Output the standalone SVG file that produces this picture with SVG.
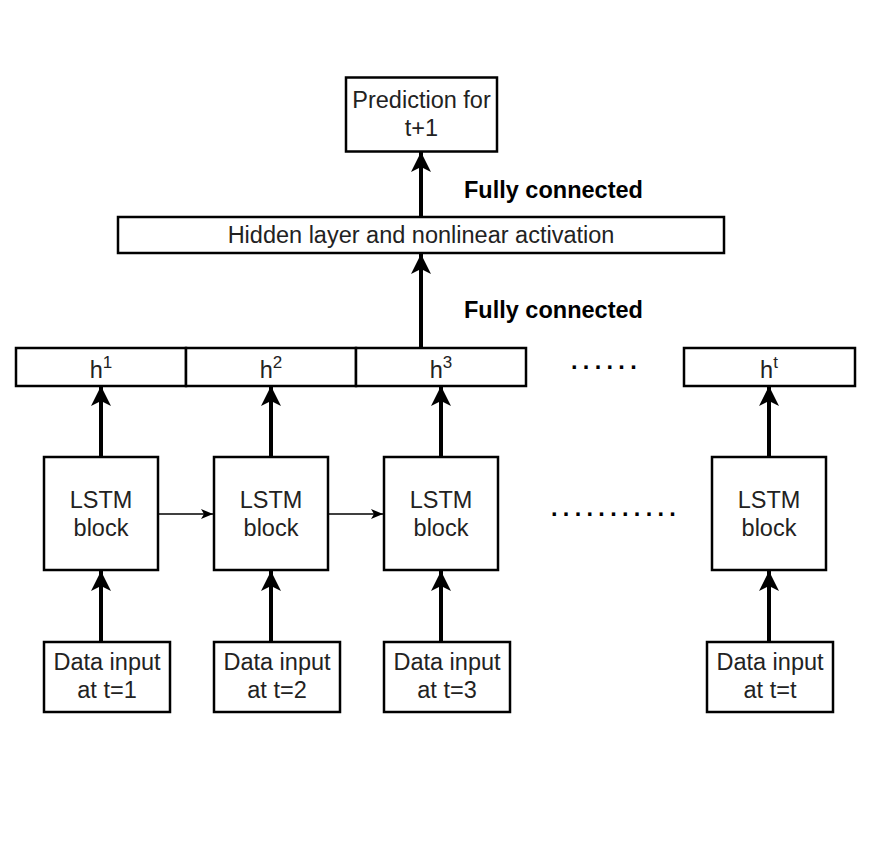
<svg xmlns="http://www.w3.org/2000/svg" width="876" height="854" viewBox="0 0 876 854">
<defs>
<marker id="big" markerUnits="userSpaceOnUse" markerWidth="20" markerHeight="20" viewBox="0 0 20 20" refX="20" refY="10" orient="auto">
<path d="M20,10 L0,0 L5,10 L0,20 Z" fill="#000"/>
</marker>
<marker id="small" markerUnits="userSpaceOnUse" markerWidth="12" markerHeight="10" viewBox="0 0 12 10" refX="12" refY="5" orient="auto">
<path d="M12,5 L0,0 L3,5 L0,10 Z" fill="#000"/>
</marker>
</defs>
<style>
rect{fill:#fff;stroke:#000;stroke-width:2.5}
text{font-family:"Liberation Sans",Arial,sans-serif;font-size:23.5px;fill:#222;text-anchor:middle}
.b{font-weight:bold;text-anchor:start;fill:#000}
.thick{stroke:#000;stroke-width:4;fill:none;marker-end:url(#big)}
.thin{stroke:#000;stroke-width:1.5;fill:none;marker-end:url(#small)}
.dots{font-weight:bold;text-anchor:start;letter-spacing:5.3px;fill:#000}
</style>
<rect x="0" y="0" width="876" height="854" style="fill:#fff;stroke:none"/>
<g id="connectors">
<line class="thick" x1="101" y1="642" x2="101" y2="571"/>
<line class="thick" x1="271" y1="642" x2="271" y2="571"/>
<line class="thick" x1="441" y1="642" x2="441" y2="571"/>
<line class="thick" x1="769" y1="642" x2="769" y2="571"/>
<line class="thick" x1="101" y1="457" x2="101" y2="386"/>
<line class="thick" x1="271" y1="457" x2="271" y2="386"/>
<line class="thick" x1="441" y1="457" x2="441" y2="386"/>
<line class="thick" x1="769" y1="457" x2="769" y2="386"/>
<line class="thick" x1="421" y1="348" x2="421" y2="254"/>
<line class="thick" x1="421" y1="217" x2="421" y2="152"/>
<line class="thin" x1="158" y1="514" x2="213" y2="514"/>
<line class="thin" x1="328" y1="514" x2="383" y2="514"/>
</g>
<g id="prediction">
<rect x="346" y="77.5" width="151" height="74"/>
<text x="421.5" y="108">Prediction for</text>
<text x="421.5" y="136">t+1</text>
</g>
<g id="hidden">
<rect x="118" y="217" width="606" height="36"/>
<text x="421" y="243">Hidden layer and nonlinear activation</text>
</g>
<g id="fc-labels">
<text class="b" x="464" y="198">Fully connected</text>
<text class="b" x="464" y="318">Fully connected</text>
</g>
<g id="h1">
<rect x="16" y="348" width="170" height="38"/>
<text x="101" y="378">h<tspan font-size="17" dy="-10">1</tspan></text>
</g>
<g id="h2">
<rect x="186" y="348" width="170" height="38"/>
<text x="271" y="378">h<tspan font-size="17" dy="-10">2</tspan></text>
</g>
<g id="h3">
<rect x="356" y="348" width="170" height="38"/>
<text x="441" y="378">h<tspan font-size="17" dy="-10">3</tspan></text>
</g>
<g id="ht">
<rect x="684" y="348" width="171" height="38"/>
<text x="769" y="378">h<tspan font-size="17" dy="-10">t</tspan></text>
</g>
<g id="dots">
<text class="dots" x="571" y="369">......</text>
<text class="dots" x="551" y="516">...........</text>
</g>
<g id="lstm1">
<rect x="44" y="457" width="114" height="113"/>
<text x="101" y="508">LSTM</text>
<text x="101" y="536">block</text>
</g>
<g id="lstm2">
<rect x="214" y="457" width="114" height="113"/>
<text x="271" y="508">LSTM</text>
<text x="271" y="536">block</text>
</g>
<g id="lstm3">
<rect x="384" y="457" width="114" height="113"/>
<text x="441" y="508">LSTM</text>
<text x="441" y="536">block</text>
</g>
<g id="lstmt">
<rect x="712" y="457" width="114" height="113"/>
<text x="769" y="508">LSTM</text>
<text x="769" y="536">block</text>
</g>
<g id="in1">
<rect x="44" y="642" width="126" height="70"/>
<text x="107" y="670">Data input</text>
<text x="107" y="698">at t=1</text>
</g>
<g id="in2">
<rect x="214" y="642" width="126" height="70"/>
<text x="277" y="670">Data input</text>
<text x="277" y="698">at t=2</text>
</g>
<g id="in3">
<rect x="384" y="642" width="126" height="70"/>
<text x="447" y="670">Data input</text>
<text x="447" y="698">at t=3</text>
</g>
<g id="int">
<rect x="707" y="642" width="126" height="70"/>
<text x="770" y="670">Data input</text>
<text x="770" y="698">at t=t</text>
</g>
</svg>
